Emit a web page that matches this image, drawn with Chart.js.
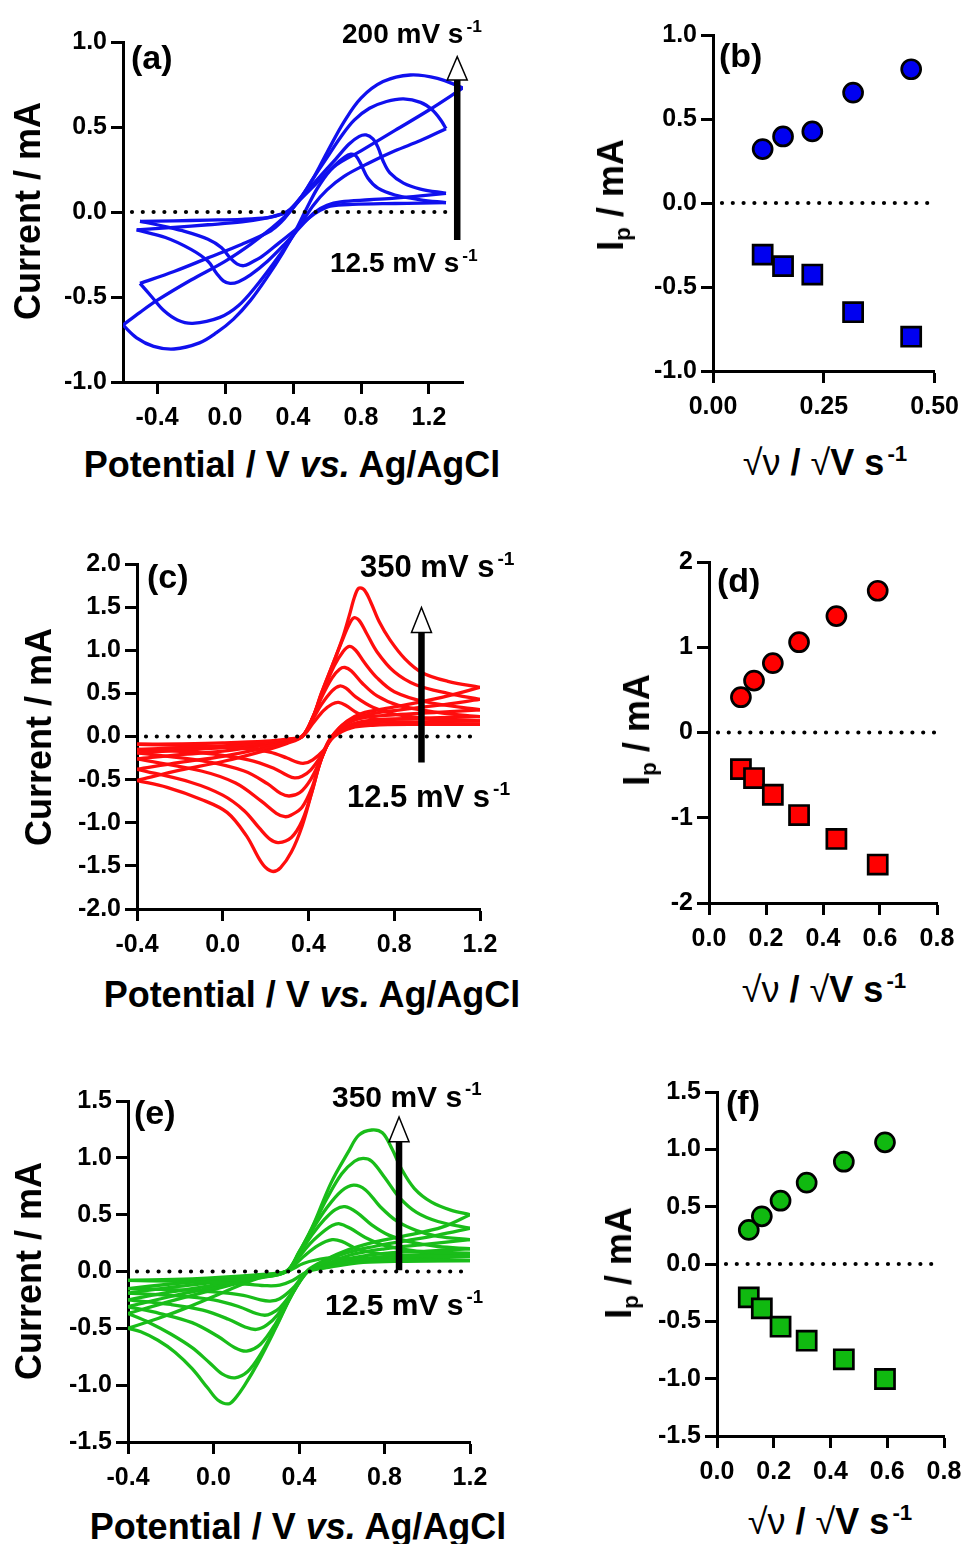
<!DOCTYPE html>
<html>
<head>
<meta charset="utf-8">
<script src="https://cdn.jsdelivr.net/npm/chart.js@4.4.1/dist/chart.umd.min.js"></script>
<style>
  body { margin: 0; background: #fff; }
  #fig { position: relative; width: 968px; height: 1544px; overflow: hidden;
         font-family: "Liberation Sans", Arial, sans-serif; font-weight: bold; color: #000; }
  #fig canvas { position: absolute; }
  .t { position: absolute; white-space: nowrap; line-height: 1; }
  .c { transform: translate(-50%, -50%); }
  .r { transform: translate(-50%, -50%) rotate(-90deg); }
  .ttl { font-size: 36px; }
  .sup { font-size: 0.62em; position: relative; top: -0.62em; margin-left: 3px; }
  .sub { font-size: 0.62em; position: relative; top: 0.32em; }
  .n { font-weight: normal; }
  .lbl { font-size: 34px; }
</style>
</head>
<body>
<div id="fig">
  <!-- panel letters -->
  <div class="t lbl" style="left:131px;top:40px">(a)</div>
  <div class="t lbl" style="left:719px;top:38px">(b)</div>
  <div class="t lbl" style="left:147px;top:559px">(c)</div>
  <div class="t lbl" style="left:717px;top:563px">(d)</div>
  <div class="t lbl" style="left:134px;top:1095px">(e)</div>
  <div class="t lbl" style="left:726px;top:1085px">(f)</div>

  <!-- scan-rate labels -->
  <div class="t" style="left:342px;top:20px;font-size:28px">200 mV s<span class="sup">-1</span></div>
  <div class="t" style="left:330px;top:249px;font-size:28px">12.5 mV s<span class="sup">-1</span></div>
  <div class="t" style="left:360px;top:551px;font-size:31px">350 mV s<span class="sup">-1</span></div>
  <div class="t" style="left:347px;top:781px;font-size:31px">12.5 mV s<span class="sup">-1</span></div>
  <div class="t" style="left:332px;top:1082px;font-size:30px">350 mV s<span class="sup">-1</span></div>
  <div class="t" style="left:325px;top:1290px;font-size:30px">12.5 mV s<span class="sup">-1</span></div>

  <!-- axis titles -->
  <div class="t ttl r" style="left:28px;top:211px">Current / mA</div>
  <div class="t ttl c" style="left:292px;top:465px">Potential / V <i>vs.</i> Ag/AgCl</div>
  <div class="t ttl r" style="left:611px;top:195px">I<span class="sub">p</span> / mA</div>
  <div class="t ttl c" style="left:825px;top:463px"><span class="n">√ν</span> / <span class="n">√</span>V s<span class="sup">-1</span></div>

  <div class="t ttl r" style="left:39px;top:737px">Current / mA</div>
  <div class="t ttl c" style="left:312px;top:995px">Potential / V <i>vs.</i> Ag/AgCl</div>
  <div class="t ttl r" style="left:637px;top:730px">I<span class="sub">p</span> / mA</div>
  <div class="t ttl c" style="left:824px;top:990px"><span class="n">√ν</span> / <span class="n">√</span>V s<span class="sup">-1</span></div>

  <div class="t ttl r" style="left:29px;top:1271px">Current / mA</div>
  <div class="t ttl c" style="left:298px;top:1527px">Potential / V <i>vs.</i> Ag/AgCl</div>
  <div class="t ttl r" style="left:619px;top:1263px">I<span class="sub">p</span> / mA</div>
  <div class="t ttl c" style="left:830px;top:1522px"><span class="n">√ν</span> / <span class="n">√</span>V s<span class="sup">-1</span></div>
</div>

<script>
// Cyclic voltammograms: each loop is [E (V), I (mA)] pairs, starting at the
// negative vertex, sweeping up to the positive vertex and back again.

// (a) slowest -> fastest
const cvA1 = [[-0.5,-0.055],[-0.3,-0.052],[-0.1,-0.048],[0.1,-0.043],[0.25,-0.033],[0.33,-0.015],[0.38,0.01],[0.45,0.08],[0.55,0.18],[0.64,0.27],[0.7,0.32],[0.74,0.34],[0.77,0.33],[0.8,0.28],[0.84,0.2],[0.9,0.14],[1.0,0.1],[1.15,0.072],[1.3,0.055],
              [1.15,0.052],[1.0,0.05],[0.75,0.045],[0.62,0.035],[0.56,0.01],[0.5,-0.03],[0.42,-0.1],[0.32,-0.18],[0.22,-0.26],[0.15,-0.3],[0.11,-0.316],[0.07,-0.305],[0.03,-0.27],[-0.02,-0.21],[-0.1,-0.16],[-0.25,-0.11],[-0.4,-0.075],[-0.5,-0.055]];
const cvA2 = [[-0.52,-0.105],[-0.3,-0.09],[-0.1,-0.075],[0.1,-0.058],[0.25,-0.035],[0.32,-0.015],[0.37,0.005],[0.45,0.09],[0.55,0.2],[0.65,0.31],[0.73,0.4],[0.79,0.445],[0.83,0.453],[0.87,0.43],[0.9,0.38],[0.93,0.3],[0.97,0.23],[1.05,0.17],[1.15,0.135],[1.3,0.11],
              [1.15,0.095],[1.0,0.082],[0.85,0.072],[0.68,0.06],[0.6,0.04],[0.53,0.0],[0.45,-0.08],[0.35,-0.19],[0.25,-0.29],[0.15,-0.37],[0.08,-0.41],[0.03,-0.42],[-0.01,-0.405],[-0.05,-0.36],[-0.1,-0.29],[-0.2,-0.22],[-0.35,-0.15],[-0.52,-0.105]];
const cvA3 = [[-0.5,-0.42],[-0.3,-0.35],[-0.1,-0.27],[0.1,-0.19],[0.27,-0.11],[0.33,-0.06],[0.38,0.0],[0.45,0.09],[0.52,0.2],[0.6,0.32],[0.68,0.44],[0.76,0.54],[0.85,0.61],[0.95,0.65],[1.05,0.665],[1.15,0.645],[1.22,0.6],[1.27,0.54],[1.3,0.49],
              [1.15,0.42],[1.0,0.36],[0.85,0.29],[0.7,0.21],[0.6,0.13],[0.52,0.04],[0.46,-0.05],[0.38,-0.17],[0.28,-0.31],[0.18,-0.44],[0.08,-0.55],[-0.03,-0.62],[-0.19,-0.655],[-0.28,-0.635],[-0.36,-0.58],[-0.43,-0.5],[-0.5,-0.42]];
const cvA4 = [[-0.6,-0.665],[-0.5,-0.59],[-0.4,-0.52],[-0.2,-0.4],[0.0,-0.29],[0.15,-0.19],[0.28,-0.09],[0.38,0.0],[0.45,0.09],[0.52,0.2],[0.6,0.35],[0.7,0.53],[0.8,0.67],[0.93,0.767],[1.09,0.806],[1.25,0.786],[1.4,0.73],
              [1.2,0.6],[1.0,0.48],[0.8,0.36],[0.64,0.265],[0.55,0.15],[0.48,0.02],[0.42,-0.1],[0.34,-0.24],[0.25,-0.38],[0.15,-0.52],[0.05,-0.63],[-0.05,-0.71],[-0.15,-0.77],[-0.3,-0.806],[-0.42,-0.79],[-0.52,-0.74],[-0.6,-0.665]];

// (c)
const cvC1 = [[-0.4,-0.09],[-0.2,-0.085],[0.0,-0.075],[0.2,-0.055],[0.3,-0.03],[0.37,0],[0.42,0.15],[0.47,0.3],[0.51,0.375],[0.54,0.395],[0.575,0.36],[0.63,0.27],[0.72,0.2],[0.85,0.165],[1.2,0.14],
              [0.9,0.14],[0.7,0.13],[0.6,0.1],[0.52,0],[0.47,-0.16],[0.42,-0.27],[0.38,-0.31],[0.35,-0.3],[0.3,-0.25],[0.22,-0.18],[0.1,-0.14],[-0.1,-0.11],[-0.4,-0.09]];
const cvC2 = [[-0.4,-0.15],[-0.2,-0.13],[0.0,-0.11],[0.2,-0.07],[0.3,-0.035],[0.37,0],[0.42,0.2],[0.46,0.37],[0.51,0.53],[0.545,0.585],[0.575,0.56],[0.62,0.46],[0.7,0.34],[0.8,0.26],[1.0,0.2],[1.2,0.18],
              [0.9,0.17],[0.7,0.16],[0.6,0.12],[0.51,0],[0.46,-0.22],[0.41,-0.39],[0.37,-0.46],[0.335,-0.48],[0.3,-0.45],[0.24,-0.37],[0.12,-0.27],[-0.1,-0.19],[-0.4,-0.15]];
const cvC3 = [[-0.4,-0.19],[-0.2,-0.16],[0.0,-0.13],[0.2,-0.08],[0.3,-0.04],[0.37,0],[0.42,0.22],[0.46,0.45],[0.51,0.68],[0.545,0.78],[0.57,0.8],[0.6,0.76],[0.65,0.62],[0.72,0.47],[0.82,0.36],[1.0,0.28],[1.2,0.23],
              [0.9,0.21],[0.7,0.19],[0.6,0.14],[0.51,0],[0.46,-0.25],[0.41,-0.5],[0.36,-0.65],[0.31,-0.69],[0.27,-0.66],[0.21,-0.55],[0.1,-0.4],[-0.1,-0.28],[-0.4,-0.19]];
const cvC4 = [[-0.4,-0.26],[-0.2,-0.21],[0.0,-0.17],[0.2,-0.1],[0.3,-0.05],[0.37,0],[0.42,0.22],[0.46,0.48],[0.52,0.82],[0.56,0.98],[0.59,1.045],[0.62,1.0],[0.66,0.86],[0.72,0.68],[0.8,0.52],[0.95,0.4],[1.2,0.31],
              [1.0,0.28],[0.8,0.25],[0.66,0.22],[0.58,0.15],[0.51,0],[0.46,-0.26],[0.415,-0.6],[0.37,-0.82],[0.32,-0.91],[0.29,-0.93],[0.25,-0.89],[0.18,-0.75],[0.06,-0.54],[-0.1,-0.4],[-0.4,-0.26]];
const cvC5 = [[-0.4,-0.38],[-0.2,-0.3],[0.0,-0.23],[0.2,-0.13],[0.3,-0.06],[0.37,0],[0.42,0.22],[0.46,0.5],[0.52,0.88],[0.56,1.13],[0.59,1.3],[0.61,1.375],[0.635,1.35],[0.67,1.2],[0.72,0.98],[0.8,0.75],[0.9,0.6],[1.05,0.5],[1.2,0.43],
              [1.0,0.36],[0.8,0.3],[0.67,0.25],[0.58,0.17],[0.51,0],[0.46,-0.26],[0.415,-0.65],[0.37,-0.98],[0.32,-1.17],[0.26,-1.23],[0.22,-1.19],[0.17,-1.06],[0.1,-0.86],[0.0,-0.68],[-0.15,-0.53],[-0.4,-0.38]];
const cvC6 = [[-0.4,-0.51],[-0.2,-0.39],[0.0,-0.29],[0.2,-0.16],[0.3,-0.08],[0.37,0],[0.42,0.22],[0.46,0.5],[0.52,0.88],[0.56,1.15],[0.59,1.4],[0.615,1.62],[0.635,1.72],[0.66,1.7],[0.69,1.56],[0.73,1.33],[0.78,1.12],[0.85,0.9],[0.93,0.74],[1.05,0.64],[1.2,0.57],
              [1.05,0.47],[0.9,0.39],[0.75,0.32],[0.65,0.27],[0.58,0.18],[0.51,0],[0.46,-0.26],[0.415,-0.65],[0.37,-1.04],[0.32,-1.34],[0.27,-1.52],[0.235,-1.565],[0.2,-1.52],[0.17,-1.42],[0.11,-1.15],[0.02,-0.88],[-0.1,-0.73],[-0.26,-0.59],[-0.4,-0.51]];

// (e)
const cvE1 = [[-0.4,-0.078],[-0.1,-0.065],[0.2,-0.03],[0.34,0],[0.42,0.07],[0.5,0.11],[0.56,0.12],[0.65,0.11],[0.8,0.1],[1.2,0.095],
              [0.9,0.09],[0.7,0.08],[0.55,0.04],[0.44,0],[0.37,-0.08],[0.31,-0.12],[0.25,-0.125],[0.15,-0.11],[0.0,-0.095],[-0.2,-0.085],[-0.4,-0.078]];
const cvE2 = [[-0.4,-0.15],[-0.2,-0.11],[0.0,-0.075],[0.2,-0.035],[0.34,0],[0.42,0.13],[0.49,0.23],[0.555,0.28],[0.6,0.265],[0.67,0.2],[0.76,0.16],[0.9,0.14],[1.2,0.13],
              [1.0,0.12],[0.8,0.11],[0.65,0.085],[0.52,0.035],[0.44,0],[0.37,-0.15],[0.31,-0.24],[0.265,-0.26],[0.22,-0.25],[0.14,-0.21],[0.0,-0.18],[-0.2,-0.16],[-0.4,-0.15]];
const cvE3 = [[-0.4,-0.19],[-0.2,-0.14],[0.0,-0.095],[0.2,-0.04],[0.34,0],[0.4,0.13],[0.46,0.26],[0.52,0.36],[0.555,0.405],[0.59,0.42],[0.64,0.38],[0.71,0.3],[0.8,0.23],[0.95,0.18],[1.2,0.16],
              [1.0,0.15],[0.8,0.13],[0.65,0.1],[0.52,0.04],[0.44,0],[0.37,-0.18],[0.31,-0.32],[0.27,-0.37],[0.24,-0.385],[0.2,-0.37],[0.12,-0.31],[0.0,-0.25],[-0.2,-0.21],[-0.4,-0.19]];
const cvE4 = [[-0.4,-0.25],[-0.2,-0.18],[0.0,-0.12],[0.2,-0.05],[0.34,0],[0.4,0.15],[0.46,0.32],[0.52,0.46],[0.57,0.545],[0.615,0.57],[0.67,0.52],[0.74,0.41],[0.82,0.32],[0.92,0.26],[1.05,0.22],[1.2,0.2],
              [1.0,0.18],[0.8,0.16],[0.65,0.12],[0.52,0.05],[0.44,0],[0.365,-0.2],[0.3,-0.38],[0.25,-0.47],[0.2,-0.51],[0.15,-0.49],[0.07,-0.42],[-0.05,-0.34],[-0.2,-0.29],[-0.4,-0.25]];
const cvE5 = [[-0.4,-0.31],[-0.2,-0.22],[0.0,-0.14],[0.2,-0.055],[0.34,0],[0.4,0.16],[0.46,0.36],[0.53,0.56],[0.6,0.71],[0.655,0.76],[0.71,0.72],[0.78,0.57],[0.86,0.44],[0.95,0.36],[1.05,0.31],[1.2,0.28],
              [1.0,0.24],[0.8,0.2],[0.65,0.15],[0.52,0.06],[0.44,0],[0.365,-0.2],[0.29,-0.46],[0.22,-0.64],[0.155,-0.7],[0.1,-0.67],[0.02,-0.57],[-0.1,-0.45],[-0.25,-0.37],[-0.4,-0.31]];
const cvE6 = [[-0.4,-0.37],[-0.2,-0.26],[0.0,-0.16],[0.2,-0.06],[0.34,0],[0.4,0.17],[0.46,0.38],[0.53,0.64],[0.6,0.86],[0.66,0.97],[0.7,0.995],[0.74,0.97],[0.8,0.83],[0.87,0.65],[0.95,0.52],[1.05,0.44],[1.2,0.38],
              [1.05,0.32],[0.9,0.27],[0.75,0.22],[0.6,0.15],[0.5,0.06],[0.44,0],[0.365,-0.21],[0.29,-0.49],[0.22,-0.73],[0.16,-0.88],[0.1,-0.935],[0.04,-0.9],[-0.02,-0.8],[-0.1,-0.67],[-0.2,-0.55],[-0.3,-0.45],[-0.4,-0.37]];
const cvE7 = [[-0.4,-0.5],[-0.26,-0.414],[-0.1,-0.3],[0.05,-0.18],[0.2,-0.065],[0.34,0],[0.4,0.17],[0.46,0.38],[0.55,0.78],[0.63,1.05],[0.68,1.2],[0.74,1.245],[0.79,1.22],[0.835,1.08],[0.88,0.9],[0.94,0.73],[1.02,0.61],[1.11,0.54],[1.2,0.5],
              [1.07,0.39],[0.91,0.32],[0.755,0.26],[0.6,0.17],[0.49,0.07],[0.435,0],[0.365,-0.21],[0.29,-0.5],[0.21,-0.795],[0.146,-1.0],[0.1,-1.12],[0.07,-1.165],[0.02,-1.13],[-0.025,-1.03],[-0.1,-0.855],[-0.18,-0.71],[-0.26,-0.605],[-0.34,-0.53],[-0.4,-0.5]];

// peak currents vs square root of scan rate
const rootRateB = [0.112, 0.158, 0.224, 0.316, 0.447];
const ipaB = [0.321, 0.396, 0.426, 0.657, 0.796];
const ipcB = [-0.307, -0.376, -0.426, -0.65, -0.796];

const rootRateDF = [0.112, 0.158, 0.224, 0.316, 0.447, 0.592];
const ipaD = [0.414, 0.609, 0.813, 1.059, 1.366, 1.663];
const ipcD = [-0.429, -0.534, -0.73, -0.968, -1.249, -1.549];
const ipaF = [0.297, 0.416, 0.552, 0.709, 0.892, 1.061];
const ipcF = [-0.291, -0.387, -0.547, -0.669, -0.831, -1.003];

// tick positions
const ticksPot = [-0.4, 0, 0.4, 0.8, 1.2];
const ticksA = [-1, -0.5, 0, 0.5, 1];
const ticksC = [-2, -1.5, -1, -0.5, 0, 0.5, 1, 1.5, 2];
const ticksE = [-1.5, -1, -0.5, 0, 0.5, 1, 1.5];
const ticksRootB = [0, 0.25, 0.5];
const ticksRootDF = [0, 0.2, 0.4, 0.6, 0.8];
const ticksD = [-2, -1, 0, 1, 2];

const FONT = "'Liberation Sans', Arial, sans-serif";
const WY = 80, HX = 62, PT = 20, PR = 32;

// dotted zero line + scan-rate arrow
const extras = {
  id: 'extras',
  afterDatasetsDraw(chart, args, opts) {
    const { ctx, chartArea: a, scales: { x, y } } = chart;
    const y0 = y.getPixelForValue(0);
    ctx.save();
    ctx.strokeStyle = '#000';
    ctx.lineWidth = 4.2;
    ctx.lineCap = 'round';
    ctx.setLineDash([0, 10.8]);
    ctx.beginPath();
    ctx.moveTo(a.left + 9, y0);
    ctx.lineTo(a.right - 2, y0);
    ctx.stroke();
    ctx.setLineDash([]);
    const ar = opts.arrow;
    if (ar) {
      const px = x.getPixelForValue(ar.x);
      const pb = y.getPixelForValue(ar.from), ps = y.getPixelForValue(ar.to), pt = y.getPixelForValue(ar.tip);
      ctx.lineCap = 'butt';
      ctx.lineWidth = 6.5;
      ctx.beginPath();
      ctx.moveTo(px, pb);
      ctx.lineTo(px, ps);
      ctx.stroke();
      ctx.lineWidth = 1.5;
      ctx.lineJoin = 'miter';
      ctx.fillStyle = '#fff';
      ctx.beginPath();
      ctx.moveTo(px - 10, ps);
      ctx.lineTo(px + 10, ps);
      ctx.lineTo(px, pt);
      ctx.closePath();
      ctx.fill();
      ctx.stroke();
    }
    ctx.restore();
  }
};

function splitLoop(loop) {
  let k = 0;
  loop.forEach((p, i) => { if (p[0] > loop[k][0]) k = i; });
  return [loop.slice(0, k + 1), loop.slice(k)];
}

function cvSets(loops, color) {
  const out = [];
  loops.forEach(loop => splitLoop(loop).forEach(branch => out.push({
    data: branch.map(([x, y]) => ({ x, y })),
    showLine: true, borderColor: color, borderWidth: 3.3, pointRadius: 0,
    tension: 0.35, fill: false
  })));
  return out;
}

function peakSets(xs, up, down, fill) {
  const common = { showLine: false, backgroundColor: fill, borderColor: '#000', pointBorderWidth: 2.7 };
  return [
    { ...common, data: xs.map((x, i) => ({ x, y: up[i] })), pointStyle: 'circle', pointRadius: 9.5 },
    { ...common, data: xs.map((x, i) => ({ x, y: down[i] })), pointStyle: 'rect', pointRadius: 13.5 }
  ];
}

function axis(min, max, ticks, dec, isX) {
  return {
    type: 'linear', min, max,
    afterBuildTicks: s => { s.ticks = ticks.map(value => ({ value })); },
    afterFit: s => { if (isX) s.height = HX; else s.width = WY; },
    ticks: {
      color: '#000', font: { family: FONT, size: 25, weight: 'bold' },
      padding: isX ? 9 : 4, autoSkip: false, maxRotation: 0,
      callback: v => v.toFixed(dec)
    },
    grid: { drawOnChartArea: false, drawTicks: true, tickLength: 12, tickWidth: 3, tickColor: '#000' },
    border: { display: true, color: '#000', width: 3 }
  };
}

// box = chart area [left, top, right, bottom] in page pixels
function panel(box, o) {
  const cv = document.createElement('canvas');
  cv.width = box[2] - box[0] + WY + PR;
  cv.height = box[3] - box[1] + PT + HX;
  cv.style.left = (box[0] - WY) + 'px';
  cv.style.top = (box[1] - PT) + 'px';
  document.getElementById('fig').prepend(cv);
  new Chart(cv, {
    type: 'scatter',
    data: { datasets: o.datasets },
    options: {
      responsive: false, animation: false, events: [],
      layout: { padding: { top: PT, right: PR, left: 0, bottom: 0 } },
      plugins: { legend: { display: false }, tooltip: { enabled: false }, extras: { arrow: o.arrow } },
      scales: {
        x: axis(o.x[0], o.x[1], o.xTicks, o.xDec, true),
        y: axis(o.y[0], o.y[1], o.yTicks, o.yDec, false)
      }
    },
    plugins: [extras]
  });
}

const BLUE = '#1010ee', RED = '#ff0d0d', GREEN = '#19bd19';

panel([123, 42, 463, 382], {
  x: [-0.6, 1.4], xTicks: ticksPot, xDec: 1, y: [-1, 1], yTicks: ticksA, yDec: 1,
  datasets: cvSets([cvA1, cvA2, cvA3, cvA4], BLUE),
  arrow: { x: 1.366, from: -0.165, to: 0.776, tip: 0.914 }
});
panel([713, 35, 936, 371], {
  x: [0, 0.5], xTicks: ticksRootB, xDec: 2, y: [-1, 1], yTicks: ticksA, yDec: 1,
  datasets: peakSets(rootRateB, ipaB, ipcB, '#0000f0')
});
panel([137, 564, 480, 909], {
  x: [-0.4, 1.2], xTicks: ticksPot, xDec: 1, y: [-2, 2], yTicks: ticksC, yDec: 1,
  datasets: cvSets([cvC1, cvC2, cvC3, cvC4, cvC5, cvC6], RED),
  arrow: { x: 0.927, from: -0.3, to: 1.205, tip: 1.495 }
});
panel([709, 562, 937, 903], {
  x: [0, 0.8], xTicks: ticksRootDF, xDec: 1, y: [-2, 2], yTicks: ticksD, yDec: 0,
  datasets: peakSets(rootRateDF, ipaD, ipcD, '#ff0000')
});
panel([128, 1101, 470, 1442], {
  x: [-0.4, 1.2], xTicks: ticksPot, xDec: 1, y: [-1.5, 1.5], yTicks: ticksE, yDec: 1,
  datasets: cvSets([cvE1, cvE2, cvE3, cvE4, cvE5, cvE6, cvE7], GREEN),
  arrow: { x: 0.868, from: 0.01, to: 1.141, tip: 1.36 }
});
panel([717, 1092, 944, 1436], {
  x: [0, 0.8], xTicks: ticksRootDF, xDec: 1, y: [-1.5, 1.5], yTicks: ticksE, yDec: 1,
  datasets: peakSets(rootRateDF, ipaF, ipcF, '#10b910')
});
</script>
</body>
</html>
